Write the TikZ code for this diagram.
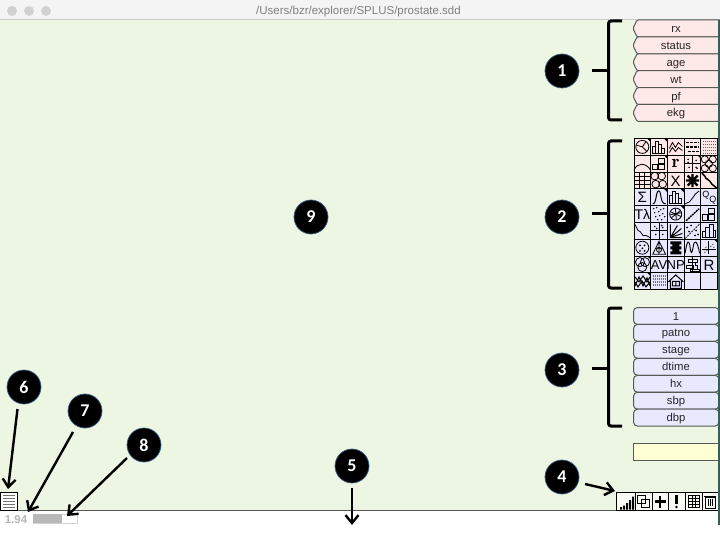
\documentclass[tikz,border=0pt]{standalone}
\usepackage{fontspec}
\setmainfont{Liberation Sans}
\newfontfamily\badgefont{Carlito}
\usetikzlibrary{arrows.meta}
\definecolor{canvasgreen}{RGB}{236,246,227}
\definecolor{barback}{RGB}{244,244,244}
\definecolor{varpink}{RGB}{255,232,232}
\definecolor{varblue}{RGB}{232,232,255}
\definecolor{varyellow}{RGB}{255,255,214}
\definecolor{edgegray}{RGB}{85,90,85}
\definecolor{glowblue}{RGB}{60,95,135}
\definecolor{edgeteal}{RGB}{55,95,85}
\tikzset{
  badge/.style={circle, fill=black, draw=glowblue, line width=0.7pt, minimum size=34pt, inner sep=0pt,
    text=white, font=\badgefont\bfseries\fontsize{18}{18}\selectfont},
  varlabel/.style={font=\fontsize{11.3}{11.3}\selectfont, text=black!85, inner sep=0pt, anchor=base},
  callout/.style={->, >={Straight Barb[length=8pt,width=13pt]}, line width=2.4pt},
  bracket/.style={line width=3pt, rounded corners=2.5pt},
  cellglyph/.style={font=\fontsize{15}{15}\selectfont, inner sep=0pt},
  iconline/.style={line width=0.8pt}
}
% one square of the tool palette: column, row, drawing
\newcommand{\iconcell}[3]{\begin{scope}[shift={({634+#1*16.7},{138.5+#2*16.8})}, iconline]#3\end{scope}}
\newcommand{\cellflag}{\fill (13.2,0) -- (16.7,0) -- (16.7,3.5) -- cycle;}
\begin{document}
\begin{tikzpicture}[x=1pt, y=-1pt]
  \useasboundingbox (0,0) rectangle (720,540);

  % window
  \fill[white] (0,0) rectangle (720,540);
  \fill[barback] (0,0) rectangle (720,19);
  \fill[canvasgreen] (0,19.5) rectangle (718,510);
  \draw[black!20, line width=1pt] (0,19.5) -- (718,19.5);
  \draw[edgegray, line width=1.2pt] (0,510.5) -- (718,510.5);
  \foreach \x in {12,29,46} \fill[black!18] (\x,11) circle (5);
  \node[text=black!50, font=\fontsize{11.5}{11.5}\selectfont, anchor=base] (title) at (358.5,14.8) {/Users/bzr/explorer/SPLUS/prostate.sdd};

  % first group of variables
  \foreach \i/\name in {0/rx,1/status,2/age,3/wt,4/pf,5/ekg} {
    \draw[edgegray, fill=varpink, line width=1pt, rounded corners=1.2pt]
      (720,{20+\i*16.9}) -- (637,{20+\i*16.9}) -- (633,{28.4+\i*16.9}) -- (637,{36.9+\i*16.9}) -- (720,{36.9+\i*16.9});
    \node[varlabel] (pink\i) at (676,{32.5+\i*16.9}) {\name};
  }

  % palette
  \foreach \c in {0,...,4} \foreach \r in {0,...,8} {
    \ifnum\r<3 \def\cellfill{varpink}\else \def\cellfill{varblue}\fi
    \draw[black, fill=\cellfill, line width=1pt] ({634+\c*16.7},{138.5+\r*16.8}) rectangle ++(16.7,16.8);
  }
  % row 1
  \iconcell{0}{0}{\draw (8.3,8.4) circle (6.5); \draw (8.3,8.4) -- (2,6.5) (8.3,8.4) -- (12,3) (8.3,8.4) -- (13,13); \cellflag}
  \iconcell{1}{0}{\draw (2,15) rectangle (5,8) (5,15) rectangle (8,3) (8,15) rectangle (11,6) (11,15) rectangle (14,10); \cellflag}
  \iconcell{2}{0}{\draw (2,10) -- (5,4) -- (8,9) -- (11,4) -- (15,8) (2,14) -- (5,9) -- (8,13) -- (11,9) -- (15,12);}
  \iconcell{3}{0}{\draw[line width=1.3pt, dash pattern=on 3pt off 1pt] (2,4) -- (15,4) (2,8.5) -- (15,8.5) (4,13) -- (15,13);}
  \iconcell{4}{0}{\draw[line width=1.3pt, black!60, dash pattern=on 1pt off 1pt] (2,3) -- (15,3) (2,6) -- (15,6) (2,9) -- (15,9) (2,12) -- (15,12) (2,15) -- (15,15);}
  % row 2
  \iconcell{0}{1}{\draw (0,15) .. controls (3,7) and (12,7) .. (16.7,15);}
  \iconcell{1}{1}{\draw (2,9) rectangle (7,14) (8,3) rectangle (14,8) (8,9) rectangle (14,14); \cellflag}
  \iconcell{2}{1}{\node[cellglyph, font=\fontfamily{lmr}\bfseries\fontsize{18}{18}\selectfont] (glyphr) at (8.3,8) {r};}
  \iconcell{3}{1}{\draw (8.3,0) -- (8.3,16.8) (0,8.4) -- (16.7,8.4); \foreach \p in {(4,4),(12,5),(5,12),(12,12),(4,7),(13,13)} \fill \p circle (0.9); \cellflag}
  \iconcell{4}{1}{\foreach \p in {(4,4),(12,4),(8,8.5),(4,13),(12,13)} \draw \p circle (3.6);}
  % row 3
  \iconcell{0}{2}{\draw (0,4) -- (16.7,4) (0,8) -- (16.7,8) (0,12) -- (16.7,12) (5,0) -- (5,16.8) (10,0) -- (10,16.8);}
  \iconcell{1}{2}{\foreach \p in {(4,4),(11,4),(5,12),(12,12)} \draw \p circle (3.8);}
  \iconcell{2}{2}{\node[cellglyph] (glyphx) at (8.3,8.8) {X};}
  \iconcell{3}{2}{\draw[line width=2.2pt] (2,8.4) -- (15,8.4) (8.4,2) -- (8.4,15) (3.5,3.5) -- (13.5,13.5) (3.5,13.5) -- (13.5,3.5);}
  \iconcell{4}{2}{\draw[line width=1.5pt] (1,1) -- (4,4) -- (5,6) -- (9,9) -- (11,12) -- (16,16);}
  % row 4
  \iconcell{0}{3}{\node[cellglyph] (glyphsum) at (8.3,8.8) {Σ};}
  \iconcell{1}{3}{\draw[line width=1pt] (2,15) .. controls (6,15) and (5,2) .. (8,2) .. controls (11,2) and (9,15) .. (15,15); \cellflag}
  \iconcell{2}{3}{\draw (2,15) rectangle (5,7) (5,15) rectangle (8,3) (8,15) rectangle (11,5) (11,15) rectangle (14,10); \cellflag}
  \iconcell{3}{3}{\draw (1,15) .. controls (8,14) and (9,5) .. (15,2);}
  \iconcell{4}{3}{\node[cellglyph, font=\fontsize{9}{9}\selectfont] (glyphq) at (5,6) {Q}; \node[cellglyph, font=\fontsize{9}{9}\selectfont] (glyphqq) at (12,11) {Q};}
  % row 5
  \iconcell{0}{4}{\node[cellglyph, font=\fontsize{14}{14}\selectfont] (glyphtl) at (8.3,8.8) {Tλ};}
  \iconcell{1}{4}{\foreach \p in {(3,3),(6,2),(10,4),(13,3),(4,7),(8,6),(12,8),(5,11),(9,10),(14,11),(7,14),(11,14)} \fill \p circle (0.8);}
  \iconcell{2}{4}{\draw (8.3,8.4) circle (6); \draw (3,6) -- (14,11) (4,12) -- (13,5) (8,3) -- (9,14) (3,9) -- (14,7); \cellflag}
  \iconcell{3}{4}{\draw[line width=1.4pt, dash pattern=on 2pt off 0.7pt] (2,15) -- (15,3);}
  \iconcell{4}{4}{\draw (2,9) rectangle (7,15) (8,3) rectangle (14,8) (8,9) rectangle (14,15);}
  % row 6
  \iconcell{0}{5}{\draw (1,2) -- (4,8) -- (6,9) -- (9,13) -- (12,13) -- (16,15);}
  \iconcell{1}{5}{\draw (8.3,0) -- (8.3,16.8) (0,8.4) -- (16.7,8.4); \foreach \p in {(4,4),(12,5),(5,12),(12,12),(6,6),(11,3)} \fill \p circle (0.9);}
  \iconcell{2}{5}{\draw[line width=1pt] (3,2) -- (3,15) -- (15,15) (3,15) -- (14,6) (3,15) -- (10,3) (3,15) -- (15,11);}
  \iconcell{3}{5}{\draw[dash pattern=on 2pt off 1pt] (1,16) -- (16,1); \foreach \p in {(3,5),(7,3),(5,9),(12,8),(11,13),(14,12)} \fill \p circle (0.9);}
  \iconcell{4}{5}{\draw (2,15) -- (2,9) -- (5,9) -- (5,5) -- (9,5) -- (9,2) -- (13,2) -- (13,8) -- (15,8) -- (15,15) -- cycle (5,9) -- (5,15) (9,5) -- (9,15) (13,8) -- (13,15);}
  % row 7
  \iconcell{0}{6}{\draw (8.3,8.4) circle (6.5); \foreach \p in {(6,6),(10.5,6),(8.3,9),(6,11.5),(10.5,11.5)} \fill \p circle (1);}
  \iconcell{1}{6}{\draw (8.3,2) -- (2,15) -- (15,15) -- cycle (5,9) -- (11.5,9) (8.3,2) -- (8.3,15); \draw (8.3,10.5) circle (2.5);}
  \iconcell{2}{6}{\fill (3,2) rectangle (14,5) (5,5) rectangle (12,7) (3,7) rectangle (14,10) (5,10) rectangle (12,12) (3,12) rectangle (14,15);}
  \iconcell{3}{6}{\draw[line width=0.9pt] (1,14) .. controls (3,0) and (5,0) .. (6,8) .. controls (7,16) and (8,14) .. (9,8) .. controls (10,0) and (13,0) .. (15.5,14);}
  \iconcell{4}{6}{\draw (8,2) -- (8,15) (1,10) -- (15,10); \foreach \p in {(4,13),(6,11),(10,7),(12,5),(5,8),(13,8)} \fill[black!60] \p circle (0.8); \cellflag}
  % row 8
  \iconcell{0}{7}{\draw (6,6) circle (4.5) (11,6) circle (4.5) (8.3,11) circle (4.5); \cellflag}
  \iconcell{1}{7}{\node[cellglyph, font=\fontsize{13}{13}\selectfont] (glyphav) at (8.3,8.8) {AV};}
  \iconcell{2}{7}{\node[cellglyph, font=\fontsize{13}{13}\selectfont] (glyphnp) at (8.3,8.8) {NP};}
  \iconcell{3}{7}{\draw (4,3) rectangle (13,6) (2,9) rectangle (9,12) (6,13) rectangle (15,15.5) (8.3,1) -- (8.3,16) (11,6) -- (11,9) -- (13,9) -- (13,13);}
  \iconcell{4}{7}{\node[cellglyph] (glyphrr) at (8.3,8.8) {R};}
  % row 9
  \iconcell{0}{8}{\draw[line width=1pt] (1,4) -- (5,9) -- (9,3) -- (13,9) -- (16,4) (1,9) -- (4,14) -- (8,8) -- (12,14) -- (16,9) (1,13) -- (5,4) -- (9,13) -- (13,5) -- (16,13); \cellflag}
  \iconcell{1}{8}{\draw[line width=1.3pt, black!55, dash pattern=on 1pt off 1pt] (2,3) -- (15,3) (2,6) -- (15,6) (2,9) -- (15,9) (2,12) -- (15,12);}
  \iconcell{2}{8}{\draw[line width=1pt] (1,9) -- (8.3,2) -- (16,9) (3,8) -- (3,15.5) -- (14,15.5) -- (14,8) (5,8.5) rectangle (12,13) (8.5,8.5) -- (8.5,13);}

  % second group of variables
  \foreach \i/\name in {0/1,1/patno,2/stage,3/dtime,4/hx,5/sbp,6/dbp} {
    \draw[edgegray, fill=varblue, line width=1pt, rounded corners=4pt]
      (719,{307.5+\i*16.95}) -- (633.5,{307.5+\i*16.95}) -- (633.5,{324.4+\i*16.95}) -- (719,{324.4+\i*16.95}) -- cycle;
    \node[varlabel] (blue\i) at (676,{320+\i*16.95}) {\name};
  }
  \node[draw=edgegray, fill=varyellow, line width=1pt, minimum width=87pt, minimum height=17pt, inner sep=0pt] (formula) at (677,451.5) {};

  % brackets
  \draw[bracket] (622,21) -- (608.5,21) -- (608.5,120) -- (622,120);
  \draw[bracket] (592,71) -- (608.5,71);
  \draw[bracket] (622,141) -- (608.5,141) -- (608.5,288) -- (622,288);
  \draw[bracket] (592,214) -- (608.5,214);
  \draw[bracket] (622,308) -- (608.5,308) -- (608.5,426) -- (622,426);
  \draw[bracket] (592,368) -- (608.5,368);

  % toolbar at the lower right
  \node[draw=black, fill=canvasgreen!40, line width=1pt, minimum width=101.5pt, minimum height=18pt, inner sep=0pt] (toolbar) at (667.7,501.5) {};
  \foreach \x in {635,652,668,685,702} \draw[line width=1pt] (\x,492.5) -- (\x,510.5);
  \fill (620,507) rectangle (622,509.5) (623,505.5) rectangle (625,509.5) (626,503) rectangle (628,509.5) (629,500) rectangle (631,509.5) (632,496.5) rectangle (634,509.5);
  \draw[line width=0.8pt] (637.5,495) rectangle (645,503) (641,499) rectangle (649,507);
  \draw[line width=2.2pt] (654.5,501.5) -- (666,501.5) (660.2,495.5) -- (660.2,507.5);
  \draw[line width=2.2pt] (676.5,495) -- (676.5,504);
  \fill (676.5,507) circle (1.4);
  \draw[line width=0.8pt] (688,495.5) rectangle (699.5,507);
  \foreach \y in {498.4,501.2,504} \draw[line width=0.6pt] (688,\y) -- (699.5,\y);
  \foreach \x in {691.8,695.6} \draw[line width=0.6pt] (\x,495.5) -- (\x,507);
  \draw[line width=0.8pt] (705,497) rectangle (715,508) (704,496.5) -- (716,496.5);
  \foreach \x in {708,710,712} \draw[line width=0.6pt] (\x,499) -- (\x,506);

  % right window edge
  \draw[edgeteal, line width=1.5pt] (719.2,20) -- (719.2,525);

  % lower left corner
  \node[draw=black, fill=white, line width=1pt, minimum width=17pt, minimum height=17.5pt, inner sep=0pt] (menu) at (9,501.5) {};
  \foreach \y in {495.5,498.5,501.5,504.5,507.5} \draw[black!55, line width=1.1pt] (3,\y) -- (15,\y);
  \node[text=black!28, font=\bfseries\fontsize{11.5}{11.5}\selectfont, inner sep=0pt, anchor=base] (scaleval) at (16,523) {1.94};
  \node[draw=black!18, line width=0.7pt, minimum width=44pt, minimum height=9pt, inner sep=0pt] (slider) at (55,518.5) {};
  \fill[black!28] (33,514) rectangle (62,523);

  % numbered circles
  \node[badge] (b1) at (562,71) {1};
  \node[badge] (b2) at (562,217) {2};
  \node[badge] (b3) at (562,370) {3};
  \node[badge] (b4) at (562,477) {4};
  \node[badge] (b5) at (352,466) {5};
  \node[badge] (b6) at (24,387) {6};
  \node[badge] (b7) at (85,411) {7};
  \node[badge] (b8) at (144,445) {8};
  \node[badge] (b9) at (311,217) {9};

  % arrows
  \coordinate (from4) at (585,484);
  \coordinate (to4) at (615,491);
  \coordinate (from5) at (352,488);
  \coordinate (to5) at (352,525);
  \coordinate (from6) at (17.5,409);
  \coordinate (to6) at (8,489);
  \coordinate (from7) at (73,432);
  \coordinate (to7) at (28,512);
  \coordinate (from8) at (127,458);
  \coordinate (to8) at (67,516);
  \draw[callout] (from4) -- (to4);
  \draw[callout] (from5) -- (to5);
  \draw[callout] (from6) -- (to6);
  \draw[callout] (from7) -- (to7);
  \draw[callout] (from8) -- (to8);
\end{tikzpicture}
\end{document}
